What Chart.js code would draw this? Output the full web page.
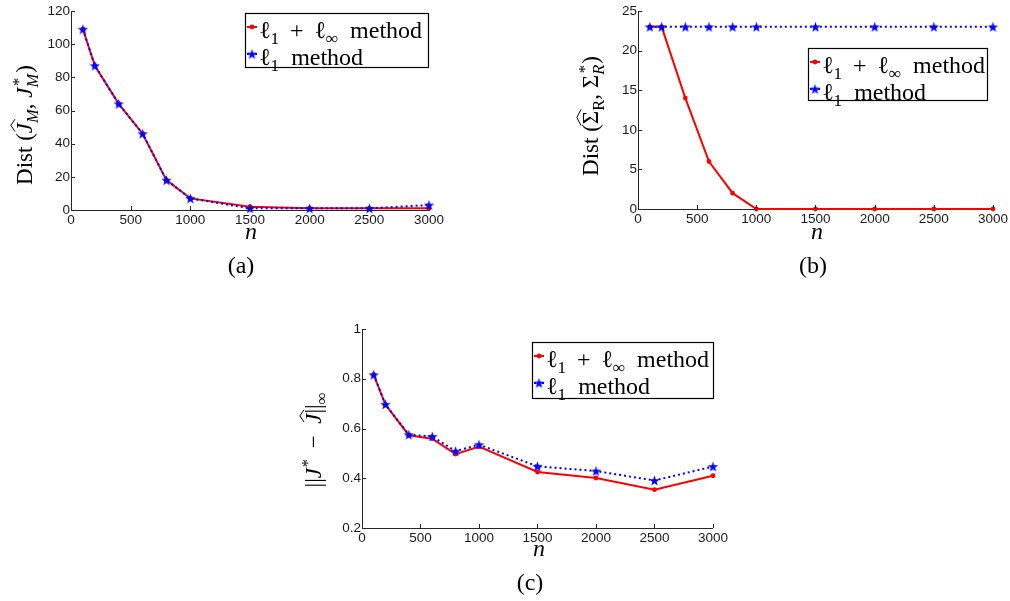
<!DOCTYPE html>
<html>
<head>
<meta charset="utf-8">
<script src="https://cdn.jsdelivr.net/npm/chart.js@4.4.0/dist/chart.umd.min.js"></script>
<style>
  html, body { margin: 0; padding: 0; background: #fff; width: 1010px; height: 601px; overflow: hidden; }
  canvas { position: absolute; }
</style>
</head>
<body>
<canvas id="chartA" width="450" height="300" style="left:0;top:0;width:450px;height:300px"></canvas>
<canvas id="chartB" width="450" height="300" style="left:560px;top:0;width:450px;height:300px"></canvas>
<canvas id="chartC" width="440" height="290" style="left:290px;top:310px;width:440px;height:290px"></canvas>
<script>
// sample sizes n
var nValues = [100, 200, 400, 600, 800, 1000, 1500, 2000, 2500, 3000];

// (a) Dist(J_M hat, J_M*)
var distJ_l1linf = [109, 87, 64, 46, 18, 7, 2, 1, 1, 1];
var distJ_l1     = [109, 87, 64, 46, 18, 7, 1, 1, 1, 3];

// (b) Dist(Sigma_R hat, Sigma_R*)
var distS_l1linf = [23, 23, 14, 6, 2, 0, 0, 0, 0, 0];
var distS_l1     = [23, 23, 23, 23, 23, 23, 23, 23, 23, 23];

// (c) ||J* - J hat||_inf
var err_l1linf = [0.816, 0.696, 0.573, 0.559, 0.497, 0.527, 0.425, 0.401, 0.354, 0.410];
var err_l1     = [0.816, 0.697, 0.575, 0.568, 0.509, 0.535, 0.448, 0.429, 0.391, 0.447];

// axis ranges / tick steps
var xRange = [0, 3000, 500];
var yRangeA = [0, 120, 20];
var yRangeB = [0, 25, 5];
var yRangeC = [0.2, 1, 0.2];

var SERIF = '"Liberation Serif", "Times New Roman", serif';
var SANS = '"Liberation Sans", Arial, sans-serif';
var RED = '#ff0000', BLUE = '#0000ff';

function starImage(size, color) {
  var c = document.createElement('canvas');
  c.width = size; c.height = size;
  var g = c.getContext('2d');
  g.beginPath();
  for (var i = 0; i < 10; i++) {
    var r = i % 2 ? size * 0.2 : size / 2;
    var a = -Math.PI / 2 + i * Math.PI / 5;
    var px = size / 2 + r * Math.cos(a), py = size / 2 + 0.5 + r * Math.sin(a);
    if (i === 0) g.moveTo(px, py); else g.lineTo(px, py);
  }
  g.closePath();
  g.fillStyle = color;
  g.fill();
  return c;
}
var STAR = starImage(11, BLUE);

function pts(ys) {
  return nValues.map(function (n, i) { return { x: n, y: ys[i] }; });
}

// --- rich text (sub/superscripts, hats) drawn on the canvas ---
function fnt(it, size) { return (it ? 'italic ' : '') + size + 'px ' + SERIF; }

function drawRich(ctx, parts, cx, cy, size, measureOnly) {
  var items = [], x = 0, s2 = size * 0.72;
  parts.forEach(function (p) {
    var k = p[0];
    if (k === 'supsub') {
      ctx.font = fnt(false, s2); var w1 = ctx.measureText(p[1]).width;
      ctx.font = fnt(true, s2); var w2 = ctx.measureText(p[2]).width;
      items.push({ t: p[1], x: x + 1.5, dy: -size * 0.36, it: false, s: s2 });
      items.push({ t: p[2], x: x, dy: size * 0.26, it: true, s: s2 });
      x += Math.max(w1 + 1.5, w2) + 1;
    } else {
      var it = k === 'i' || k === 'ih' || k === 'sub' || k === 'sup';
      var s = (k === 'sub' || k === 'subr' || k === 'sup') ? s2 : size;
      var dy = (k === 'sub' || k === 'subr') ? size * 0.26 : (k === 'sup' ? -size * 0.36 : 0);
      ctx.font = fnt(it, s);
      var w = ctx.measureText(p[1]).width;
      items.push({ t: p[1], x: x, dy: dy, it: it, s: s, w: w, hat: k === 'ih' || k === 'h', ital: it });
      x += w;
    }
  });
  if (measureOnly) return x;
  var x0 = cx - x / 2;
  ctx.textBaseline = 'alphabetic';
  ctx.textAlign = 'left';
  items.forEach(function (m) {
    ctx.font = fnt(m.it, m.s);
    ctx.fillText(m.t, x0 + m.x, cy + m.dy);
    if (m.hat) {
      var hx = x0 + m.x + (m.ital ? size * 0.12 : 0), hy = cy - size * 0.74;
      ctx.beginPath();
      ctx.moveTo(hx - m.w * 0.1, hy);
      ctx.lineTo(hx + m.w * 0.5, hy - size * 0.18);
      ctx.lineTo(hx + m.w * 1.1, hy);
      ctx.lineWidth = 1;
      ctx.stroke();
    }
  });
  return x;
}

var legendParts = [
  [['r', 'ℓ'], ['subr', '1'], ['r', ' \u2009+\u2009 ℓ'], ['subr', '∞'], ['r', '  method']],
  [['r', 'ℓ'], ['subr', '1'], ['r', '  method']]
];

function tickLabel(v) { return String(Math.round(v * 100) / 100); }

// draws ticks inward, axis labels, legend box and caption
var decorPlugin = {
  id: 'decor',
  afterDraw: function (chart, args, o) {
    var ctx = chart.ctx, a = chart.chartArea;
    var xs = chart.scales.x, ys = chart.scales.y;
    ctx.save();
    ctx.strokeStyle = '#262626';
    ctx.lineWidth = 1;
    ctx.beginPath();
    xs.ticks.forEach(function (t) {
      var px = Math.round(xs.getPixelForValue(t.value)) + 0.5;
      ctx.moveTo(px, a.bottom); ctx.lineTo(px, a.bottom - 4);
    });
    ys.ticks.forEach(function (t) {
      var py = Math.round(ys.getPixelForValue(t.value)) + 0.5;
      ctx.moveTo(a.left, py); ctx.lineTo(a.left + 4, py);
    });
    ctx.stroke();

    ctx.fillStyle = '#000';
    ctx.strokeStyle = '#000';
    // y label
    ctx.save();
    ctx.translate(o.yLabelPos[0], o.yLabelPos[1]);
    ctx.rotate(-Math.PI / 2);
    drawRich(ctx, o.yLabel, 0, 0, 23);
    ctx.restore();
    // x label and caption
    ctx.textAlign = 'center';
    ctx.textBaseline = 'alphabetic';
    ctx.font = fnt(true, 24);
    ctx.fillText('n', o.nPos[0], o.nPos[1]);
    ctx.font = fnt(false, 24);
    ctx.fillText(o.caption, o.capPos[0], o.capPos[1]);

    // legend
    var L = o.legend;
    ctx.fillStyle = '#fff';
    ctx.fillRect(L[0], L[1], L[2], L[3]);
    ctx.strokeStyle = '#000';
    ctx.lineWidth = 1.2;
    ctx.strokeRect(L[0] + 0.5, L[1] + 0.5, L[2], L[3]);
    var rows = [L[1] + 14, L[1] + 41];
    // red entry
    ctx.strokeStyle = RED; ctx.lineWidth = 2;
    ctx.beginPath(); ctx.moveTo(L[0] + 2, rows[0]); ctx.lineTo(L[0] + 12, rows[0]); ctx.stroke();
    ctx.fillStyle = RED;
    ctx.beginPath(); ctx.arc(L[0] + 7, rows[0], 2.4, 0, Math.PI * 2); ctx.fill();
    // blue entry
    ctx.strokeStyle = BLUE; ctx.setLineDash([2, 2]);
    ctx.beginPath(); ctx.moveTo(L[0] + 2, rows[1]); ctx.lineTo(L[0] + 12, rows[1]); ctx.stroke();
    ctx.setLineDash([]);
    ctx.drawImage(STAR, L[0] + 7 - 5.5, rows[1] - 5.5);
    ctx.fillStyle = '#000';
    var fs = 24;
    [0, 1].forEach(function (i) {
      var w = drawRich(ctx, legendParts[i], 0, 0, fs, true);
      drawRich(ctx, legendParts[i], L[0] + 14 + w / 2, rows[i] + 11, fs);
    });
    ctx.restore();
  }
};

function makeChart(id, red, blue, yr, geom, decor) {
  return new Chart(document.getElementById(id), {
    type: 'line',
    data: {
      datasets: [
        {
          label: 'l1 + linf method', data: pts(red), order: 1, clip: false,
          borderColor: RED, backgroundColor: RED, borderWidth: 2, tension: 0,
          pointStyle: 'circle', pointRadius: 2.4, pointBorderWidth: 0, pointBackgroundColor: RED
        },
        {
          label: 'l1 method', data: pts(blue), order: 0, clip: false,
          borderColor: BLUE, backgroundColor: BLUE, borderWidth: 2, borderDash: [2, 3], tension: 0,
          pointStyle: STAR, pointRadius: 5
        }
      ]
    },
    options: {
      responsive: false,
      animation: false,
      events: [],
      layout: { padding: { left: 0, top: geom.top, right: geom.right, bottom: 0 } },
      plugins: { legend: { display: false }, tooltip: { enabled: false }, decor: decor },
      scales: {
        x: {
          type: 'linear', min: xRange[0], max: xRange[1],
          afterFit: function (s) { s.height = geom.xh; },
          ticks: { stepSize: xRange[2], color: '#1a1a1a', font: { family: SANS, size: 13.5 }, padding: 2, maxRotation: 0, callback: tickLabel },
          grid: { drawOnChartArea: false, drawTicks: false },
          border: { color: '#262626', width: 1 }
        },
        y: {
          type: 'linear', min: yr[0], max: yr[1],
          afterFit: function (s) { s.width = geom.yw; },
          ticks: { stepSize: yr[2], color: '#1a1a1a', font: { family: SANS, size: 13.5 }, padding: 1, callback: tickLabel },
          grid: { drawOnChartArea: false, drawTicks: false },
          border: { color: '#262626', width: 1 }
        }
      }
    },
    plugins: [decorPlugin]
  });
}

makeChart('chartA', distJ_l1linf, distJ_l1, yRangeA,
  { top: 11, right: 21, yw: 71, xh: 90 },
  {
    yLabel: [['r', 'Dist ('], ['ih', 'J'], ['sub', 'M'], ['r', ', '], ['i', 'J'], ['supsub', '*', 'M'], ['r', ')']],
    yLabelPos: [32, 125], nPos: [251, 239], caption: '(a)', capPos: [241, 273],
    legend: [245, 13, 183, 54]
  });

makeChart('chartB', distS_l1linf, distS_l1, yRangeB,
  { top: 11, right: 15, yw: 78, xh: 91 },
  {
    yLabel: [['r', 'Dist ('], ['h', 'Σ'], ['subr', 'R'], ['r', ', Σ'], ['supsub', '*', 'R'], ['r', ')']],
    yLabelPos: [38, 116], nPos: [257, 239], caption: '(b)', capPos: [253, 273],
    legend: [248, 48, 179, 52]
  });

makeChart('chartC', err_l1linf, err_l1, yRangeC,
  { top: 19, right: 13, yw: 72, xh: 72 },
  {
    yLabel: [['r', '||'], ['i', 'J'], ['sup', '*'], ['r', '\u2002−\u2002'], ['ih', 'J'], ['r', '||'], ['subr', '∞']],
    yLabelPos: [31, 130], nPos: [249, 246], caption: '(c)', capPos: [240, 280],
    legend: [242, 32, 181, 56]
  });
</script>
</body>
</html>
